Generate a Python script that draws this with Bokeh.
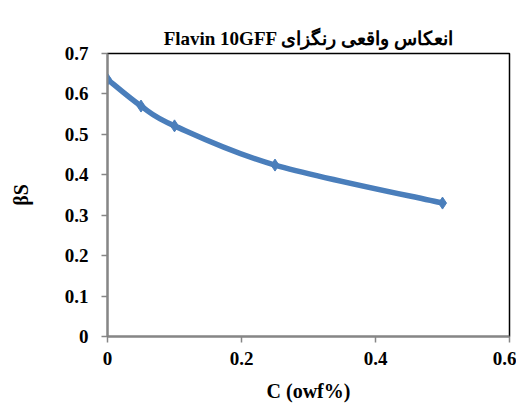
from bokeh.plotting import figure
from bokeh.models import Range1d, FixedTicker, Title
from bokeh.embed import file_html
from bokeh.resources import INLINE

# data
conc = [0.0, 0.05, 0.1, 0.25, 0.5]
beta_s = [0.636, 0.570, 0.521, 0.424, 0.330]
x_ticks = [0, 0.2, 0.4, 0.6]
x_tick_labels = ["0", "0.2", "0.4", "0.6"]
y_ticks = [0, 0.1, 0.2, 0.3, 0.4, 0.5, 0.6, 0.7]
y_tick_labels = ["0", "0.1", "0.2", "0.3", "0.4", "0.5", "0.6", "0.7"]
title_text = "Flavin 10GFF انعکاس واقعی رنگزای"
x_label = "C (owf%)"
y_label = "βS"

FONT = "Liberation Serif"
BLUE = "#4A7EBB"
GRAY = "#868686"

p = figure(width=516, height=404, output_backend="svg", toolbar_location=None,
           x_range=Range1d(0, 0.6), y_range=Range1d(0, 0.7),
           min_border_left=107, min_border_right=7, min_border_top=53, min_border_bottom=67)
p.grid.visible = False
p.background_fill_color = "white"
p.border_fill_color = "white"
p.outline_line_color = "black"
p.outline_line_width = 1.5

p.title.text = title_text
p.title.align = "center"
p.title.text_font = FONT
p.title.text_font_style = "bold"
p.title.text_font_size = "19px"
p.title.text_color = "black"

# small invisible spacer between the title and the frame
p.add_layout(Title(text=" ", text_font_size="10px", text_alpha=0), "above")

# smoothed line (Catmull-Rom style bezier from the data points)
n = len(conc)
x0, y0, x1, y1, cx0, cy0, cx1, cy1 = [], [], [], [], [], [], [], []
for i in range(n - 1):
    pm = max(i - 1, 0)
    pp = min(i + 2, n - 1)
    x0.append(conc[i]); y0.append(beta_s[i])
    x1.append(conc[i + 1]); y1.append(beta_s[i + 1])
    cx0.append(conc[i] + (conc[i + 1] - conc[pm]) / 6)
    cy0.append(beta_s[i] + (beta_s[i + 1] - beta_s[pm]) / 6)
    cx1.append(conc[i + 1] - (conc[pp] - conc[i]) / 6)
    cy1.append(beta_s[i + 1] - (beta_s[pp] - beta_s[i]) / 6)
p.bezier(x0=x0, y0=y0, x1=x1, y1=y1, cx0=cx0, cy0=cy0, cx1=cx1, cy1=cy1,
         line_color=BLUE, line_width=5.5, line_cap="round")
p.scatter(conc, beta_s, marker="diamond", size=12, color=BLUE)

for ax, ticks, labels in ((p.xaxis[0], x_ticks, x_tick_labels), (p.yaxis[0], y_ticks, y_tick_labels)):
    ax.ticker = FixedTicker(ticks=ticks)
    ax.major_label_overrides = {t: l for t, l in zip(ticks, labels)}
    ax.axis_line_color = GRAY
    ax.axis_line_width = 2
    ax.major_tick_line_color = GRAY
    ax.major_tick_line_width = 1.5
    ax.major_tick_in = 0
    ax.major_tick_out = 6
    ax.minor_tick_line_color = None
    ax.major_label_text_font = FONT
    ax.major_label_text_font_style = "bold"
    ax.major_label_text_font_size = "19px"
    ax.major_label_text_color = "black"
    ax.axis_label_text_font = FONT
    ax.axis_label_text_font_style = "bold"
    ax.axis_label_text_font_size = "20px"
    ax.axis_label_text_color = "black"

p.xaxis.axis_label = x_label
p.yaxis.axis_label = y_label
p.xaxis.major_label_standoff = 9
p.yaxis.major_label_standoff = 13
p.xaxis.axis_label_standoff = 12
p.yaxis.axis_label_standoff = 30

open("out.html", "w").write(file_html(p, INLINE))
